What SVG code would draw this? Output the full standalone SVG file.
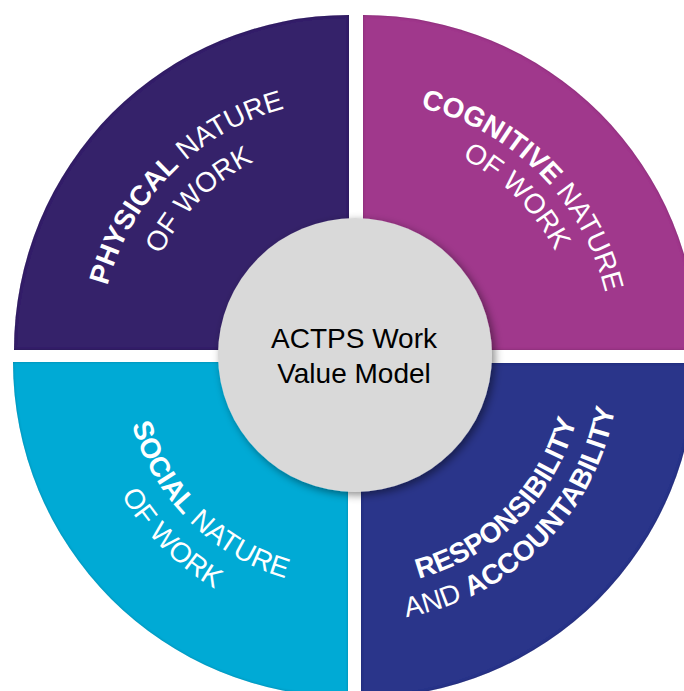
<svg xmlns="http://www.w3.org/2000/svg" width="684" height="691" viewBox="0 0 684 691">
  <defs>
    <style>
      .seg-label { font-family: "Liberation Sans", Arial, sans-serif; font-size: 28px; fill: #ffffff; }
      .b { font-weight: bold; }
      .hub-label { font-family: "Liberation Sans", Arial, sans-serif; font-size: 28px; fill: #000000; }
    </style>
    <!-- soft darkened rim along the inside of each segment -->
    <filter id="rim" x="-5%" y="-5%" width="110%" height="110%">
      <feFlood flood-color="#000000" flood-opacity="0.45"/>
      <feComposite in2="SourceAlpha" operator="out"/>
      <feGaussianBlur stdDeviation="1.6"/>
      <feComposite in2="SourceAlpha" operator="in" result="rimShade"/>
      <feMerge>
        <feMergeNode in="SourceGraphic"/>
        <feMergeNode in="rimShade"/>
      </feMerge>
    </filter>
    <filter id="hubShadow" x="-20%" y="-20%" width="140%" height="140%">
      <feDropShadow dx="3" dy="3" stdDeviation="4" flood-color="#000000" flood-opacity="0.45"/>
    </filter>
    <!-- baselines for the curved labels -->
    <path id="tl1" d="M99,350 A250,250 0 0 1 349,100"/>
    <path id="tl2" d="M138,350 A211,211 0 0 1 349,139"/>
    <path id="tr1" d="M363,101 A249,249 0 0 1 612,350"/>
    <path id="tr2" d="M363,134 A216,216 0 0 1 579,350"/>
    <path id="bl1" d="M123,362 A225,225 0 0 0 348,587"/>
    <path id="bl2" d="M85,362 A263,263 0 0 0 348,625"/>
    <path id="br1" d="M361,586 A223,223 0 0 0 584,363"/>
    <path id="br2" d="M361,621 A258,258 0 0 0 619,363"/>
  </defs>

  <rect width="684" height="691" fill="#ffffff"/>

  <g id="physical">
    <path d="M349,350 L14,350 A335,335 0 0 1 349,15 Z" fill="#36216b" filter="url(#rim)"/>
    <text class="seg-label"><textPath href="#tl1" startOffset="50%" text-anchor="middle"><tspan class="b">PHYSICAL</tspan> NATURE</textPath></text>
    <text class="seg-label"><textPath href="#tl2" startOffset="50%" text-anchor="middle">OF WORK</textPath></text>
  </g>

  <g id="cognitive">
    <path d="M363,350 L363,15 A335,335 0 0 1 698,350 Z" fill="#a0378c" filter="url(#rim)"/>
    <text class="seg-label"><textPath href="#tr1" startOffset="50%" text-anchor="middle"><tspan class="b">COGNITIVE</tspan> NATURE</textPath></text>
    <text class="seg-label"><textPath href="#tr2" startOffset="50%" text-anchor="middle">OF WORK</textPath></text>
  </g>

  <g id="social">
    <path d="M348,362 L348,697 A335,335 0 0 1 13,362 Z" fill="#00aad5" filter="url(#rim)"/>
    <text class="seg-label"><textPath href="#bl1" startOffset="50%" text-anchor="middle"><tspan class="b">SOCIAL</tspan> NATURE</textPath></text>
    <text class="seg-label"><textPath href="#bl2" startOffset="50%" text-anchor="middle">OF WORK</textPath></text>
  </g>

  <g id="responsibility">
    <path d="M361,363 L696,363 A335,335 0 0 1 361,698 Z" fill="#2a368a" filter="url(#rim)"/>
    <text class="seg-label"><textPath href="#br1" startOffset="50%" text-anchor="middle"><tspan class="b">RESPONSIBILITY</tspan></textPath></text>
    <text class="seg-label"><textPath href="#br2" startOffset="50%" text-anchor="middle">AND <tspan class="b">ACCOUNTABILITY</tspan></textPath></text>
  </g>

  <g id="hub">
    <circle cx="355" cy="355" r="137" fill="#d9d9d9" filter="url(#hubShadow)"/>
    <text class="hub-label" x="354" y="348" text-anchor="middle">ACTPS Work</text>
    <text class="hub-label" x="354" y="383" text-anchor="middle">Value Model</text>
  </g>
</svg>
